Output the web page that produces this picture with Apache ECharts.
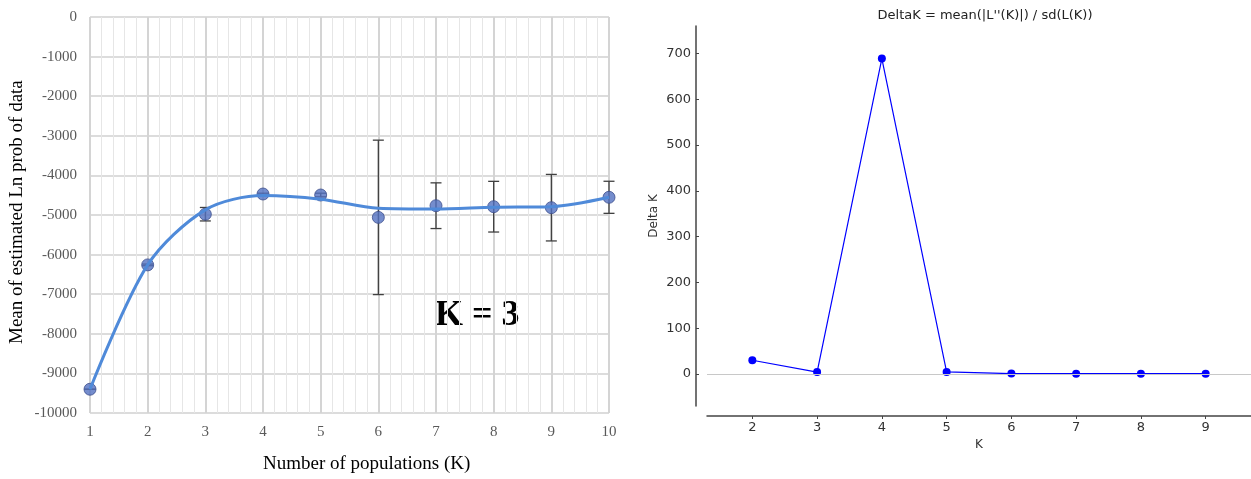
<!DOCTYPE html>
<html>
<head>
<meta charset="utf-8">
<script src="https://cdn.jsdelivr.net/npm/echarts@6/dist/echarts.min.js"></script>
<style>
html, body { margin: 0; padding: 0; background: #fff; }
#main { width: 1251px; height: 479px; }
</style>
</head>
<body>
<div id="main"></div>
<script>
// left: mean Ln P(D) per K, with sd and the trend curve
var kLeft = [1, 2, 3, 4, 5, 6, 7, 8, 9, 10];
var meanLnP = [-9400, -6260, -4980, -4470, -4495, -5060, -4765, -4790, -4815, -4553];
var sdLnP = [0, 20, 170, 20, 45, 1950, 577, 640, 840, 405];
var trendLnP = [-9400, -6260, -4870, -4510, -4600, -4830, -4850, -4806, -4790, -4553];

// right: Evanno deltaK
var kRight = [2, 3, 4, 5, 6, 7, 8, 9];
var deltaK = [30, 4, 689, 4.5, 0.8, 0.7, 0.5, 0.6];
var deltaTicks = [0, 100, 200, 300, 400, 500, 600, 700];

var serif = 'Liberation Serif';
var sans = 'DejaVu Sans';

var chart = echarts.init(document.getElementById('main'));

var errData = kLeft.map((k, i) => [k, meanLnP[i] + sdLnP[i], meanLnP[i] - sdLnP[i]]);

function errorBar(params, api) {
    var top = api.coord([api.value(0), api.value(1)]);
    var bot = api.coord([api.value(0), api.value(2)]);
    var w = 5.5;
    var st = { stroke: '#404040', lineWidth: 1.3 };
    return {
        type: 'group',
        children: [
            { type: 'line', shape: { x1: top[0], y1: top[1], x2: bot[0], y2: bot[1] }, style: st },
            { type: 'line', shape: { x1: top[0] - w, y1: top[1], x2: top[0] + w, y2: top[1] }, style: st },
            { type: 'line', shape: { x1: bot[0] - w, y1: bot[1], x2: bot[0] + w, y2: bot[1] }, style: st }
        ]
    };
}

var option = {
    animation: false,
    title: {
        text: "DeltaK = mean(|L''(K)|) / sd(L(K))",
        left: 980,
        textAlign: 'center',
        top: 4,
        textStyle: { fontFamily: sans, fontSize: 13, fontWeight: 'normal', color: '#222' }
    },
    grid: [
        { left: 90, top: 17, width: 519, height: 396 },
        { left: 707, top: 26, width: 546, height: 380 }
    ],
    xAxis: [
        {
            gridIndex: 0, type: 'value', min: 1, max: 10, interval: 1,
            axisLine: { show: false },
            axisTick: { show: false },
            minorTick: { show: false, splitNumber: 5 },
            axisLabel: { fontFamily: serif, fontSize: 15, color: '#595959', margin: 12 },
            splitLine: { show: true, lineStyle: { color: '#d4d4d4', width: 2 } },
            minorSplitLine: { show: true, lineStyle: { color: '#e6e6e6', width: 1 } }
        },
        {
            gridIndex: 1, type: 'value', min: 1.3, max: 9.7, offset: 10,
            name: 'K', nameLocation: 'middle', nameGap: 21,
            nameTextStyle: { fontFamily: sans, fontSize: 12, color: '#333' },
            axisLine: { show: true, onZero: false, lineStyle: { color: '#444', width: 1.5 } },
            axisTick: { show: true, length: 3, customValues: kRight, lineStyle: { color: '#444' } },
            axisLabel: { customValues: kRight, fontFamily: sans, fontSize: 13, color: '#333', margin: 5 },
            splitLine: { show: false }
        }
    ],
    yAxis: [
        {
            gridIndex: 0, type: 'value', min: -10000, max: 0, interval: 1000,
            axisLine: { show: false },
            axisTick: { show: false },
            axisLabel: { fontFamily: serif, fontSize: 15, color: '#595959', margin: 13, formatter: v => String(v) },
            splitLine: { show: true, lineStyle: { color: '#d0d0d0', width: 1.5 } }
        },
        {
            gridIndex: 1, type: 'value', min: -70, max: 760, offset: 11,
            name: 'Delta K', nameLocation: 'middle', nameGap: 36,
            nameTextStyle: { fontFamily: sans, fontSize: 12, color: '#333' },
            axisLine: { show: true, onZero: false, lineStyle: { color: '#444', width: 1.5 } },
            axisTick: { show: true, length: 3, inside: true, customValues: deltaTicks, lineStyle: { color: '#444' } },
            axisLabel: { customValues: deltaTicks, fontFamily: sans, fontSize: 13, color: '#333', margin: 5 },
            splitLine: { show: false }
        }
    ],
    series: [
        {
            type: 'custom',
            xAxisIndex: 0, yAxisIndex: 0,
            renderItem: errorBar,
            data: errData,
            z: 2
        },
        {
            type: 'scatter',
            xAxisIndex: 0, yAxisIndex: 0,
            data: kLeft.map((k, i) => [k, meanLnP[i]]),
            symbolSize: 12,
            itemStyle: { color: '#5371c0', borderColor: '#3d4f8c', borderWidth: 1 },
            z: 3
        },
        {
            type: 'line',
            xAxisIndex: 0, yAxisIndex: 0,
            data: kLeft.map((k, i) => [k, trendLnP[i]]),
            smooth: 0.3,
            showSymbol: false,
            lineStyle: { color: '#4f8ad9', width: 3 },
            z: 4
        },
        {
            type: 'line',
            xAxisIndex: 1, yAxisIndex: 1,
            data: kRight.map((k, i) => [k, deltaK[i]]),
            symbol: 'circle',
            symbolSize: 8,
            itemStyle: { color: '#0000ff' },
            lineStyle: { color: '#0000ff', width: 1.2 },
            markLine: {
                silent: true,
                symbol: ['none', 'none'],
                label: { show: false },
                lineStyle: { color: '#c8c8c8', width: 1, type: 'solid' },
                data: [{ yAxis: 0 }]
            }
        }
    ],
    graphic: [
        {
            type: 'text', left: 263, top: 455,
            style: { text: 'Number of populations (K)', font: '19px "Liberation Serif"', fill: '#000' }
        },
        {
            type: 'text', x: 8, y: 344, rotation: Math.PI / 2,
            style: { text: 'Mean of estimated Ln prob of data', font: '19px "Liberation Serif"', fill: '#000' }
        },
        {
            type: 'text', left: 435, top: 298,
            style: { text: 'K = 3', font: 'bold 36px "Liberation Serif"', fill: '#000' }
        }
    ]
};

chart.setOption(option);
</script>
</body>
</html>
